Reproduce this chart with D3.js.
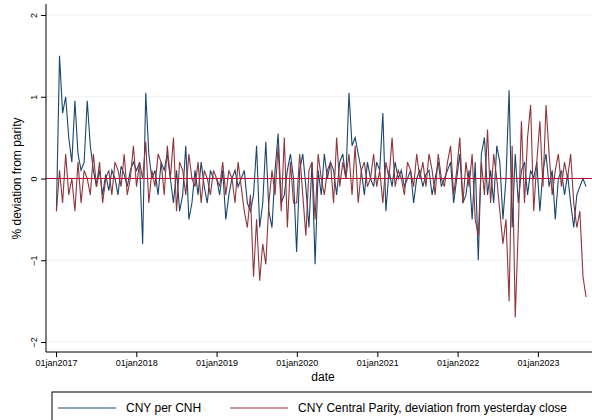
<!DOCTYPE html>
<html><head><meta charset="utf-8">
<script src="https://cdn.jsdelivr.net/npm/d3@7"></script>
<style>body{margin:0;background:#fff}svg{font-family:"Liberation Sans",Arial,sans-serif}</style>
</head><body><svg id="c" width="592" height="420"></svg>
<script>
// readings, one value every 14 days from 03jan2017
const cnhDeviation = [
  -0.4, 1.5, 0.8, 1.0, 0.5, 0.2, 0.95, 0.3, 0.1, 0.2, 0.95, 0.4, 0.1, -0.1, 0.1, -0.2, 0.05, -0.15, 0.1, 0.0, -0.2, 0.15, 0.05, -0.1, 0.1, 0.2,
  0.1, 0.2, -0.8, 1.05, 0.3, 0.0, 0.1, -0.2, 0.2, 0.1, 0.3, 0.0, -0.3, 0.1, -0.4, -0.2, 0.4, -0.5, -0.3, 0.1, -0.2, 0.2, -0.1, -0.3, 0.1, 0.0,
  0.0, -0.2, 0.1, -0.5, -0.2, 0.0, 0.1, -0.1, 0.0, 0.1, -0.3, -0.4, -0.2, 0.4, -0.6, -0.3, 0.45, -0.4, -0.6, 0.1, 0.55, -0.3, -0.2, 0.1, 0.3, 0.0,
  -0.9, 0.1, 0.3, -0.1, -0.6, 0.2, -1.05, 0.1, -0.2, 0.3, 0.0, 0.2, 0.1, -0.2, 0.2, 0.3, 0.0, 1.05, 0.4, 0.5, 0.3, 0.1, -0.2, 0.2, 0.0, -0.1,
  0.2, 0.1, 0.8, -0.4, 0.1, -0.1, 0.2, 0.0, 0.1, -0.1, 0.0, 0.1, -0.3, 0.0, 0.1, -0.1, 0.05, 0.1, -0.2, 0.0, 0.2, -0.1, 0.0, 0.1, 0.2, -0.3,
  0.0, 0.3, -0.3, -0.2, 0.1, -0.5, 0.2, -1.0, 0.3, 0.5, -0.2, 0.1, -0.3, 0.4, 0.2, -0.5, 0.0, 1.08, -0.6, 0.3, -0.3, 0.1, 0.2, -0.2, 0.1, 0.0,
  0.2, -0.4, 0.1, 0.3, -0.1, 0.1, -0.5, 0.0, 0.1, -0.2, 0.05, -0.3, -0.6, -0.2, -0.1, 0.0, -0.1
];
const parityDeviation = [
  -0.4, 0.1, -0.3, 0.3, -0.2, 0.0, -0.4, 0.2, -0.3, 0.1, 0.0, -0.2, 0.3, -0.1, 0.2, -0.3, 0.0, 0.1, -0.2, 0.2, 0.1, -0.1, 0.3, -0.2, 0.0, 0.4,
  -0.1, 0.2, 0.0, 0.45, -0.3, 0.1, -0.1, 0.3, 0.2, -0.2, 0.4, 0.0, 0.5, -0.4, 0.2, 0.1, -0.2, 0.3, 0.0, -0.1, 0.2, -0.3, 0.1, 0.0, -0.2, 0.1,
  0.0, -0.1, 0.2, -0.2, 0.1, 0.0, -0.3, 0.2, -0.1, -0.4, -0.6, -0.2, -1.2, -0.5, -1.25, -0.8, -1.05, -0.3, 0.1, -0.2, 0.4, -0.4, 0.5, -0.6, 0.2, -0.3,
  -0.3, 0.3, -0.2, -0.7, 0.1, 0.2, -0.5, 0.3, 0.0, -0.2, 0.1, 0.2, -0.3, 0.5, -0.1, 0.2, 0.0, 0.3, -0.2, 0.4, -0.3, 0.1, 0.2, -0.1, 0.0, 0.3,
  -0.1, 0.1, -0.3, 0.2, 0.0, 0.5, -0.1, 0.1, 0.0, -0.2, 0.2, 0.1, -0.1, 0.3, 0.0, 0.2, -0.1, 0.3, 0.1, -0.2, 0.3, 0.0, -0.1, 0.2, 0.4, -0.2,
  0.1, 0.5, -0.3, 0.2, -0.1, 0.3, -0.5, -0.7, 0.2, -0.2, 0.6, -0.3, 0.3, 0.0, -0.4, -0.8, -0.5, -1.5, 0.4, -1.7, -0.6, 0.7, -0.3, 0.5, 0.9, -0.4,
  0.2, 0.7, -0.1, 0.9, 0.3, -0.2, 0.1, 0.3, -0.1, 0.2, 0.0, 0.3, -0.3, -0.6, -0.4, -1.2, -1.45
];
const yTicks = [-2, -1, 0, 1, 2];
const xTickYears = [2017, 2018, 2019, 2020, 2021, 2022, 2023];
const legendLabels = ["CNY per CNH", "CNY Central Parity, deviation from yesterday close"];
const colors = ["#1a476f", "#90353b"];

const fmt = d3.timeFormat("%d%b%Y");
const start = new Date(2017, 0, 3);
const dates = cnhDeviation.map((_, i) => d3.timeDay.offset(start, i * 14));

const svg = d3.select("#c");
const pL = 46, pR = 592, pT = 4, pB = 352;
const x = d3.scaleTime().domain([new Date(2017, 0, 1), new Date(2023, 8, 4)]).range([56, 592]);
const y = d3.scaleLinear().domain([-2, 2]).range([342, 15]);

// grid
svg.append("g").selectAll("line").data(yTicks.filter(d => d !== 0)).join("line")
  .attr("x1", pL).attr("x2", pR).attr("y1", y).attr("y2", y)
  .attr("stroke", "#eaf2f3").attr("stroke-width", 1);

svg.append("defs").append("clipPath").attr("id", "pc").append("rect")
  .attr("x", pL).attr("y", pT).attr("width", pR - pL).attr("height", pB - pT);

const line = d3.line().x((d, i) => x(dates[i])).y(d => y(d));
[cnhDeviation, parityDeviation].forEach((s, k) => {
  svg.append("path").datum(s).attr("d", line).attr("clip-path", "url(#pc)")
    .attr("fill", "none").attr("stroke", colors[k]).attr("stroke-width", 1.1);
});
svg.append("line").attr("x1", pL).attr("x2", pR).attr("y1", y(0)).attr("y2", y(0))
  .attr("stroke", "#c10534").attr("stroke-width", 1.2);

// axes
const yAxis = svg.append("g").attr("transform", `translate(${pL},0)`)
  .call(d3.axisLeft(y).tickValues(yTicks).tickSize(5).tickFormat(d3.format("d")));
yAxis.select(".domain").attr("d", `M0,${pT}V${pB}`);
yAxis.selectAll("text").attr("transform", "rotate(-90)").attr("x", d => -y(d)).attr("y", -9)
  .attr("dy", 0).style("text-anchor", "middle").style("font-size", "9px");
yAxis.selectAll(".tick").each(function(d) {
  d3.select(this).select("text").attr("x", 0);
});

const xAxis = svg.append("g").attr("transform", `translate(0,${pB})`)
  .call(d3.axisBottom(x).tickValues(xTickYears.map(yr => new Date(yr, 0, 1)))
    .tickSize(5).tickFormat(d => fmt(d).toLowerCase()));
xAxis.select(".domain").attr("d", `M${pL},0H${pR}`);
xAxis.selectAll("text").style("font-size", "9px").attr("y", 8);
svg.selectAll(".tick line, .domain").attr("stroke", "#000");

svg.append("text").attr("x", 323).attr("y", 381).attr("text-anchor", "middle")
  .style("font-size", "12px").text("date");
svg.append("text").attr("transform", `translate(21,${y(0)}) rotate(-90)`).attr("text-anchor", "middle")
  .style("font-size", "12px").text("% deviation from parity");

// legend
svg.append("rect").attr("x", 52).attr("y", 392).attr("width", 560).attr("height", 40)
  .attr("fill", "#fff").attr("stroke", "#000").attr("stroke-width", 1);
const lx = [58, 230];
legendLabels.forEach((t, k) => {
  svg.append("line").attr("x1", lx[k]).attr("x2", lx[k] + 58).attr("y1", 408).attr("y2", 408)
    .attr("stroke", colors[k]).attr("stroke-width", 1.1);
  svg.append("text").attr("x", lx[k] + 68).attr("y", 412).style("font-size", "12px").text(t);
});
</script></body></html>
